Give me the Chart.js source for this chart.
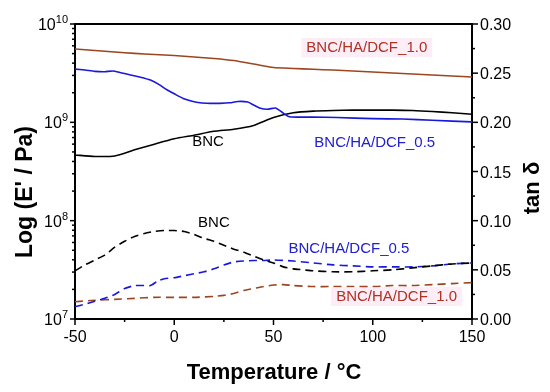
<!DOCTYPE html>
<html>
<head>
<meta charset="utf-8">
<script src="https://cdn.jsdelivr.net/npm/chart.js@4"></script>
<style>
  body { margin: 0; background: #fff; }
  canvas { display: block; }
</style>
</head>
<body>
<canvas id="canvas" width="550" height="392"></canvas>
<script>
let tempBrownE = [-50, -40, -30, -20, -10, 0, 10, 20, 30, 40, 50, 60, 70, 80, 90, 100, 110, 120, 130, 140, 150];
let brownE = [5.57e9, 5.38e9, 5.19e9, 5.03e9, 4.89e9, 4.78e9, 4.62e9, 4.46e9, 4.25e9, 3.92e9, 3.61e9,
              3.53e9, 3.46e9, 3.40e9, 3.33e9, 3.25e9, 3.18e9, 3.10e9, 3.03e9, 2.96e9, 2.89e9];

let tempBlueE = [-50, -45, -40, -35, -31, -27, -22, -17, -12, -8, -3.5, 0, 4.5, 9, 13, 18, 23, 28, 32, 37,
                 40, 43, 47, 51, 54, 58, 70, 82, 100, 115, 130, 150];
let blueE = [3.48e9, 3.40e9, 3.30e9, 3.27e9, 3.33e9, 3.20e9, 3.03e9, 2.88e9, 2.69e9, 2.45e9, 2.13e9, 1.95e9,
             1.75e9, 1.64e9, 1.58e9, 1.56e9, 1.56e9, 1.58e9, 1.63e9, 1.61e9, 1.50e9, 1.40e9, 1.36e9, 1.40e9,
             1.28e9, 1.14e9, 1.13e9, 1.12e9, 1.09e9, 1.08e9, 1.05e9, 1.01e9];

let tempBlackE = [-50, -40, -30, -20, -10, 0, 10, 20, 30, 40, 50, 60, 70, 80, 90, 100, 110, 120, 130, 140, 150];
let blackE = [4.65e8, 4.50e8, 4.55e8, 5.25e8, 6.0e8, 6.8e8, 7.4e8, 8.1e8, 8.5e8, 9.3e8, 1.12e9,
              1.25e9, 1.30e9, 1.32e9, 1.33e9, 1.33e9, 1.33e9, 1.32e9, 1.29e9, 1.25e9, 1.21e9];

// tan delta
let tempBlackT = [-50, -45, -40, -35, -30, -25, -20, -15, -10, -5, 0, 5, 10, 15, 20, 25, 30, 35, 40, 45,
                  50, 55, 60, 65, 70, 80, 90, 100, 110, 120, 130, 140, 150];
let blackT = [0.049, 0.055, 0.060, 0.065, 0.073, 0.079, 0.084, 0.087, 0.089, 0.090, 0.090, 0.089, 0.086,
              0.082, 0.079, 0.075, 0.071, 0.068, 0.064, 0.060, 0.057, 0.053, 0.051, 0.050, 0.049, 0.048,
              0.048, 0.049, 0.050, 0.052, 0.054, 0.056, 0.057];

let tempBlueT = [-50, -45, -40, -35, -30, -25, -20, -15, -12, -8, -5, 0, 5, 10, 15, 20, 25, 30, 35, 40,
                 45, 50, 60, 70, 80, 90, 100, 110, 120, 130, 140, 150];
let blueT = [0.0125, 0.015, 0.018, 0.021, 0.025, 0.031, 0.034, 0.034, 0.034, 0.039, 0.041, 0.042, 0.044,
             0.046, 0.048, 0.051, 0.055, 0.058, 0.059, 0.0595, 0.0595, 0.060, 0.059, 0.057, 0.055, 0.054,
             0.053, 0.053, 0.053, 0.054, 0.056, 0.057];

let tempBrownT = [-50, -40, -30, -20, -10, 0, 10, 20, 25, 30, 35, 40, 45, 50, 55, 60, 70, 80, 90, 100,
                  110, 120, 130, 140, 150];
let brownT = [0.0176, 0.019, 0.020, 0.021, 0.022, 0.022, 0.022, 0.023, 0.024, 0.026, 0.029, 0.031, 0.033,
              0.0345, 0.035, 0.034, 0.033, 0.033, 0.033, 0.033, 0.034, 0.034, 0.035, 0.036, 0.037];

// axis ticks
let xMajor = [-50, 0, 50, 100, 150];
let xMinor = [-25, 25, 75, 125];
let yDecades = [1e7, 1e8, 1e9, 1e10];
let tanMajor = [0, 0.05, 0.10, 0.15, 0.20, 0.25, 0.30];
let tanMinor = [0.025, 0.075, 0.125, 0.175, 0.225, 0.275];

let brown = '#9c4620';
let blue = '#1818dc';

function pts(xs, ys) {
  let out = [];
  for (let i = 0; i < xs.length; i++) out.push({x: xs[i], y: ys[i]});
  return out;
}

function line(xs, ys, color, axis, dashed) {
  return {
    data: pts(xs, ys),
    yAxisID: axis,
    borderColor: color,
    borderWidth: 1.6,
    borderDash: dashed ? [8, 5] : [],
    pointRadius: 0,
    tension: 0.2,
    fill: false
  };
}

// labels inside the plot: text, x value, tan value (right axis), colour, pink box
let notes = [
  ['BNC/HA/DCF_1.0', 97, 0.2755, '#b03222', true],
  ['BNC/HA/DCF_0.5', 101, 0.1790, '#2020d0', false],
  ['BNC', 17, 0.1800, '#000', false],
  ['BNC', 20, 0.0976, '#000', false],
  ['BNC/HA/DCF_0.5', 88, 0.0712, '#2020d0', false],
  ['BNC/HA/DCF_1.0', 112, 0.0224, '#b03222', true]
];

let decor = {
  id: 'decor',
  afterDraw(chart) {
    let ctx = chart.ctx;
    let a = chart.chartArea;
    let sx = chart.scales.x, sy = chart.scales.y, st = chart.scales.y1;
    ctx.save();
    ctx.strokeStyle = '#000';
    ctx.fillStyle = '#000';

    // top frame line
    ctx.lineWidth = 2;
    ctx.beginPath();
    ctx.moveTo(a.left - 1, a.top);
    ctx.lineTo(a.right + 1, a.top);
    ctx.stroke();

    ctx.lineWidth = 1.5;
    function tick(x1, y1, x2, y2) {
      ctx.beginPath(); ctx.moveTo(x1, y1); ctx.lineTo(x2, y2); ctx.stroke();
    }
    // bottom ticks
    xMajor.forEach(v => { let p = sx.getPixelForValue(v); tick(p, a.bottom, p, a.bottom + 6); });
    xMinor.forEach(v => { let p = sx.getPixelForValue(v); tick(p, a.bottom, p, a.bottom + 3); });
    // left log ticks
    for (let d = 1e7; d < 1e10; d *= 10) {
      for (let m = 1; m < 10; m++) {
        let p = sy.getPixelForValue(d * m);
        tick(a.left, p, a.left - (m === 1 ? 5 : 3), p);
      }
    }
    tick(a.left, sy.getPixelForValue(1e10), a.left - 5, sy.getPixelForValue(1e10));
    // right ticks
    tanMajor.forEach(v => { let p = st.getPixelForValue(v); tick(a.right, p, a.right + 6, p); });
    tanMinor.forEach(v => { let p = st.getPixelForValue(v); tick(a.right, p, a.right + 3, p); });

    // tick labels
    ctx.font = '16px "Liberation Sans", Arial, sans-serif';
    ctx.textAlign = 'center';
    ctx.textBaseline = 'alphabetic';
    xMajor.forEach(v => ctx.fillText(String(v), sx.getPixelForValue(v), a.bottom + 23));

    yDecades.forEach(v => {
      let p = sy.getPixelForValue(v);
      let e = String(Math.round(Math.log10(v)));
      ctx.font = '11px "Liberation Sans", Arial, sans-serif';
      let ew = ctx.measureText(e).width;
      let right = a.left - 7;
      ctx.textAlign = 'left';
      ctx.fillText(e, right - ew, p - 1);
      ctx.font = '16px "Liberation Sans", Arial, sans-serif';
      ctx.textAlign = 'right';
      ctx.fillText('10', right - ew, p + 6);
    });

    ctx.font = '16px "Liberation Sans", Arial, sans-serif';
    ctx.textAlign = 'left';
    tanMajor.forEach(v => ctx.fillText(v.toFixed(2), a.right + 8, st.getPixelForValue(v) + 6));

    // axis titles
    ctx.font = 'bold 22px "Liberation Sans", Arial, sans-serif';
    ctx.textAlign = 'center';
    ctx.fillText('Temperature / \u00B0C', 274, 379);

    ctx.textBaseline = 'middle';
    ctx.save();
    ctx.translate(26, 192);
    ctx.rotate(-Math.PI / 2);
    ctx.font = 'bold 23px "Liberation Sans", Arial, sans-serif';
    ctx.fillText("Log (E' / Pa)", 0, 0);
    ctx.restore();

    ctx.save();
    ctx.translate(533, 188);
    ctx.rotate(-Math.PI / 2);
    ctx.font = 'bold 22px "Liberation Sans", Arial, sans-serif';
    ctx.fillText('tan \u03B4', 0, 0);
    ctx.restore();

    // curve labels
    ctx.font = '15px "Liberation Sans", Arial, sans-serif';
    ctx.textAlign = 'center';
    ctx.textBaseline = 'middle';
    notes.forEach(n => {
      let px = sx.getPixelForValue(n[1]);
      let py = st.getPixelForValue(n[2]);
      if (n[4]) {
        let w = ctx.measureText(n[0]).width;
        ctx.fillStyle = 'rgba(252, 220, 238, 0.5)';
        ctx.fillRect(px - w / 2 - 5, py - 10, w + 10, 19);
      }
      ctx.fillStyle = n[3];
      ctx.fillText(n[0], px, py);
    });
    ctx.restore();
  }
};

let options = {
  type: 'line',
  data: {
    datasets: [
      line(tempBrownE, brownE, brown, 'y', false),
      line(tempBlueE, blueE, blue, 'y', false),
      line(tempBlackE, blackE, '#000', 'y', false),
      line(tempBlackT, blackT, '#000', 'y1', true),
      line(tempBlueT, blueT, blue, 'y1', true),
      line(tempBrownT, brownT, brown, 'y1', true)
    ]
  },
  options: {
    responsive: false,
    animation: false,
    layout: { padding: { top: 24, left: 0, right: 0, bottom: 0 } },
    plugins: { legend: { display: false }, tooltip: { enabled: false } },
    scales: {
      x: {
        type: 'linear', min: -50, max: 150,
        ticks: { display: false },
        grid: { display: false },
        border: { display: true, color: '#000', width: 2 },
        afterFit(s) { s.height = 73; }
      },
      y: {
        type: 'logarithmic', position: 'left', min: 1e7, max: 1e10,
        ticks: { display: false },
        grid: { display: false },
        border: { display: true, color: '#000', width: 2 },
        afterFit(s) { s.width = 75; }
      },
      y1: {
        type: 'linear', position: 'right', min: 0, max: 0.30,
        ticks: { display: false },
        grid: { display: false },
        border: { display: true, color: '#000', width: 2 },
        afterFit(s) { s.width = 78; }
      }
    }
  },
  plugins: [decor]
};

let chart = new Chart(document.getElementById('canvas'), options);
</script>
</body>
</html>
